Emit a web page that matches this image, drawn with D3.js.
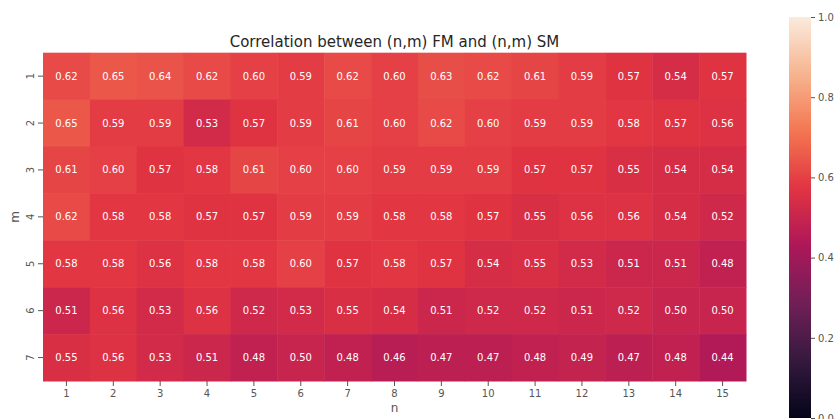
<!DOCTYPE html>
<html><head><meta charset="utf-8">
<script src="https://cdn.jsdelivr.net/npm/d3@7"></script>
<style>body{margin:0;background:#fff}svg{display:block}text{font-family:"DejaVu Sans",sans-serif}</style>
</head><body><svg id="c" width="837" height="419"></svg>
<script>
const cols = [1,2,3,4,5,6,7,8,9,10,11,12,13,14,15];
const rows = [1,2,3,4,5,6,7];
const values = [
 [0.62,0.65,0.64,0.62,0.60,0.59,0.62,0.60,0.63,0.62,0.61,0.59,0.57,0.54,0.57],
 [0.65,0.59,0.59,0.53,0.57,0.59,0.61,0.60,0.62,0.60,0.59,0.59,0.58,0.57,0.56],
 [0.61,0.60,0.57,0.58,0.61,0.60,0.60,0.59,0.59,0.59,0.57,0.57,0.55,0.54,0.54],
 [0.62,0.58,0.58,0.57,0.57,0.59,0.59,0.58,0.58,0.57,0.55,0.56,0.56,0.54,0.52],
 [0.58,0.58,0.56,0.58,0.58,0.60,0.57,0.58,0.57,0.54,0.55,0.53,0.51,0.51,0.48],
 [0.51,0.56,0.53,0.56,0.52,0.53,0.55,0.54,0.51,0.52,0.52,0.51,0.52,0.50,0.50],
 [0.55,0.56,0.53,0.51,0.48,0.50,0.48,0.46,0.47,0.47,0.48,0.49,0.47,0.48,0.44]
];
const cbarTicks = [0.0,0.2,0.4,0.6,0.8,1.0];
const title = "Correlation between (n,m) FM and (n,m) SM";

// rocket colormap stops
const rocketStops = ["#03051a","#35193e","#701f57","#ad1759","#e13342","#f37651","#f6b48f","#faebdd"];
const rocketPos = [0,1/7,2/7,3/7,4/7,5/7,6/7,1];
const rocket = d3.scaleLinear().domain(rocketPos).range(rocketStops).interpolate(d3.interpolateRgb).clamp(true);
const color = v => rocket(v);

const svg = d3.select("#c");
const L=43, R=746, T=52.7, B=381;
const x = d3.scaleBand().domain(cols).range([L,R]);
const y = d3.scaleBand().domain(rows).range([T,B]);

const cells = [];
values.forEach((r,i)=>r.forEach((v,j)=>cells.push({r:rows[i],c:cols[j],v})));

svg.append("g").selectAll("rect").data(cells).join("rect")
  .attr("x",d=>x(d.c)).attr("y",d=>y(d.r))
  .attr("width",x.bandwidth()+0.5).attr("height",y.bandwidth()+0.5)
  .attr("fill",d=>color(d.v));

svg.append("g").selectAll("text").data(cells).join("text")
  .attr("x",d=>x(d.c)+x.bandwidth()/2).attr("y",d=>y(d.r)+y.bandwidth()/2)
  .attr("dy","0.35em").attr("text-anchor","middle")
  .attr("font-size",10).attr("fill","#fff")
  .text(d=>d.v.toFixed(2));

const tc = "#555";
// x axis
const xa = svg.append("g").attr("transform",`translate(0,${B})`)
  .call(d3.axisBottom(x).tickSize(5).tickPadding(4));
xa.select(".domain").remove();
xa.selectAll("line").attr("stroke",tc);
xa.selectAll("text").attr("fill",tc).attr("font-size",10).style("font-family","DejaVu Sans");

// y axis
const ya = svg.append("g").attr("transform",`translate(${L},0)`)
  .call(d3.axisLeft(y).tickSize(5).tickPadding(0));
ya.select(".domain").remove();
ya.selectAll("line").attr("stroke",tc);
ya.selectAll("text").attr("fill",tc).attr("font-size",10).style("font-family","DejaVu Sans")
  .attr("text-anchor","middle").attr("x",0).attr("dy",0)
  .attr("transform","translate(-13,0) rotate(-90)").attr("dominant-baseline","central");

svg.append("text").attr("x",(L+R)/2).attr("y",408).attr("dy","0.35em")
  .attr("text-anchor","middle").attr("font-size",12).attr("fill",tc).text("n");
svg.append("text").attr("transform",`translate(15,${(T+B)/2}) rotate(-90)`).attr("dy","0.35em")
  .attr("text-anchor","middle").attr("font-size",12).attr("fill",tc).text("m");

svg.append("text").attr("x",(L+R)/2).attr("y",47)
  .attr("text-anchor","middle").attr("font-size",15).attr("fill","#262626").text(title);

// colorbar
const cbL=789, cbW=22, cbT=17, cbB=418;
const cy = d3.scaleLinear().domain([0,1]).range([cbB,cbT]);
const defs = svg.append("defs");
const grad = defs.append("linearGradient").attr("id","cbg").attr("x1",0).attr("y1",1).attr("x2",0).attr("y2",0);
d3.range(0,1.0001,0.02).forEach(t=>grad.append("stop").attr("offset",t).attr("stop-color",rocket(t)));
svg.append("rect").attr("x",cbL).attr("y",cbT).attr("width",cbW).attr("height",cbB-cbT).attr("fill","url(#cbg)");
const ca = svg.append("g").attr("transform",`translate(${cbL+cbW},0)`)
  .call(d3.axisRight(cy).tickValues(cbarTicks).tickFormat(d3.format(".1f")).tickSize(4).tickPadding(3));
ca.select(".domain").remove();
ca.selectAll("line").attr("stroke",tc);
ca.selectAll("text").attr("fill",tc).attr("font-size",10).style("font-family","DejaVu Sans");
</script></body></html>
